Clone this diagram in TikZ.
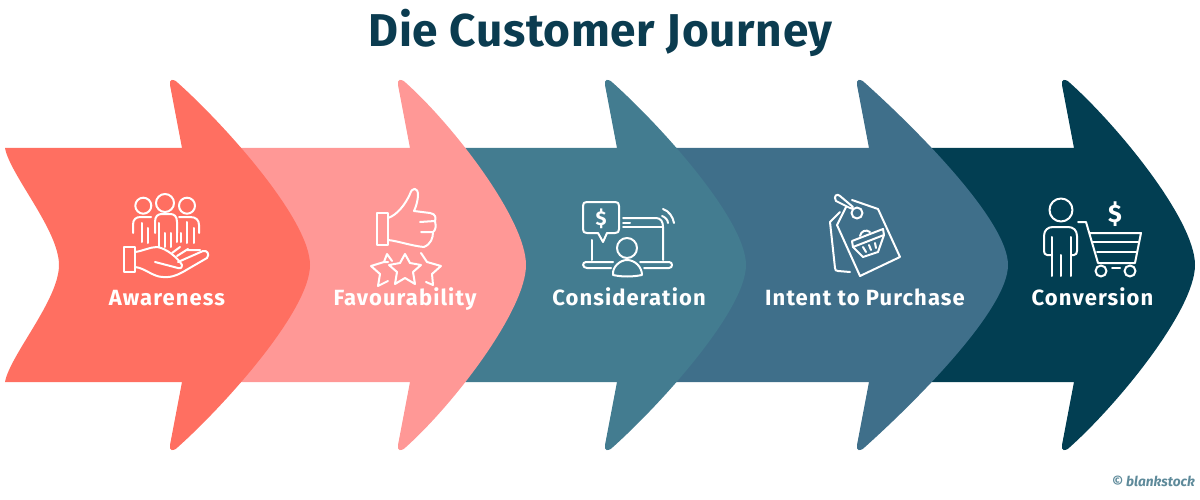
\documentclass[tikz,border=0pt]{standalone}
\usepackage{fontspec}
\setmainfont{Fira Sans}
\newfontfamily\labfont[LetterSpace=5]{Fira Sans}
\newfontfamily\titlefont[LetterSpace=1.5]{Fira Sans}
\definecolor{cA}{HTML}{FF6F61}
\definecolor{cB}{HTML}{FF9896}
\definecolor{cC}{HTML}{437C90}
\definecolor{cD}{HTML}{3F6F8A}
\definecolor{cE}{HTML}{023E52}
\definecolor{cT}{HTML}{0B3C50}
\definecolor{cR}{HTML}{5E8A9A}
\tikzset{
 ico/.style={draw=white,line width=2pt,line cap=round,line join=round},
 lab/.style={text=white,font=\labfont\fontsize{22}{22}\selectfont\bfseries,inner sep=0pt,anchor=base},
 pics/chevron/.style args={#1/#2/#3}{code={
  \fill[#3] (12,68) -- (0,5) .. controls (-1,-1) and (3,-2) .. (8,3)
     .. controls (56,46) and (#2,140) .. (#2,185)
     .. controls (#2,230) and (56,324) .. (8,367)
     .. controls (3,372) and (-1,371) .. (0,365) -- (12,302) -- (#1,302)
     .. controls (#1+5,275) and (#1+54,220) .. (#1+54,185)
     .. controls (#1+54,150) and (#1+5,95) .. (#1,68) -- cycle;
 }}
}
\begin{document}
\begin{tikzpicture}[x=1pt,y=-1pt]
\useasboundingbox (0,0) rectangle (1200,500);
\pic at (1062,80) {chevron={-190/133/cE}};
\pic at (857,80) {chevron={-190/151/cD}};
\pic at (605,80) {chevron={-170/141/cC}};
\pic at (398,80) {chevron={-170/128/cB}};
\pic at (170,80) {chevron={-165/140/cA}};
\node[text=cT,font=\titlefont\fontsize{46}{46}\selectfont\bfseries,inner sep=0pt] (title) at (600.5,33) {Die Customer Journey};
\node[lab] (l1) at (167,305) {Awareness};
\node[lab] (l2) at (405,305) {Favourability};
\node[lab] (l3) at (629,305) {Consideration};
\node[lab] (l4) at (865,305) {Intent to Purchase};
\node[lab] (l5) at (1092.5,305) {Conversion};
\node[text=cR,font=\fontsize{13.7}{14}\selectfont\bfseries\itshape,inner sep=0pt,anchor=east] (credit) at (1195,481.5) {© blankstock};
% Awareness icon
\begin{scope}[ico]
\draw (143.3,205.7) circle (8); \draw (165,203) circle (9); \draw (187,205.7) circle (8);
\draw (133,233) -- (133,225) .. controls (133,219) and (136,217) .. (141,217) -- (151,217);
\draw (142,223) -- (142,242) (148,228) -- (148,243);
\draw (155,233) -- (155,222) .. controls (155,216) and (158,214) .. (162,214) -- (170,214) .. controls (174,214) and (177,216) .. (177,222) -- (177,233);
\draw (159,223) -- (159,247) (165,233) -- (165,247) (171,233) -- (171,247) (177,233) -- (177,242);
\draw (179,217) -- (190,217) .. controls (196,217) and (199,220) .. (199,225) -- (199,233);
\draw (187,222) -- (187,243) (194,228) -- (194,243) (181,233) -- (181,242);
\draw (124,247) rectangle (135,272);
\draw (135,252) .. controls (143,251) and (150,247) .. (157,247) .. controls (166,248) and (178,258) .. (182,265) .. controls (182,268) and (180,269) .. (178,268) -- (155,262);
\draw (135,267) .. controls (145,268) and (153,277) .. (163,277) .. controls (172,278) and (180,274) .. (188,269) -- (207,258) .. controls (210,254) and (207,250) .. (203,251) -- (178,262);
\draw (172,253) -- (180,247) (177,256) -- (188,249) (186,250) -- (200,250);
\end{scope}
% Favourability icon
\begin{scope}[ico]
\draw (377,213) rectangle (388,245);
\draw (388,218) .. controls (397,215) and (405,205) .. (410,194) .. controls (412,187) and (418,187) .. (418,195) .. controls (418,200) and (416,207) .. (414,211) -- (430,213) .. controls (436,214) and (436,218) .. (435,221) .. controls (436,226) and (436,230) .. (433,232) .. controls (433,238) and (431,244) .. (424,247) .. controls (412,246) and (398,241) .. (388,240);
\draw (420,222) -- (435,221) (421,232) -- (433,232);
\foreach \cx/\cy in {405/269}{
 \draw (\cx,\cy-15) -- (\cx+5,\cy-6) -- (\cx+16,\cy-4) -- (\cx+8,\cy+3) -- (\cx+10,\cy+15) -- (\cx,\cy+9) -- (\cx-10,\cy+15) -- (\cx-8,\cy+3) -- (\cx-16,\cy-4) -- (\cx-5,\cy-6) -- cycle;
}
\draw (388,262) -- (384,262) -- (371,266) -- (380,274) -- (378,286) -- (388,281);
\draw (384,262) -- (387,254) -- (392,261);
\draw (421,253) -- (427,262) -- (441,266) -- (432,274) -- (433,285) -- (426,282);
\end{scope}
% Consideration icon
\begin{scope}[ico]
\draw (587,202) -- (615,202) .. controls (618,202) and (619,203) .. (619,206) -- (619,229) .. controls (619,232) and (618,233) .. (615,233) -- (607,233) -- (603,242) -- (598,233) -- (587,233) .. controls (584,233) and (583,232) .. (583,229) -- (583,206) .. controls (583,203) and (584,202) .. (587,202) -- cycle;
\node[text=white,font=\fontsize{20}{20}\selectfont\bfseries,inner sep=0pt,draw=none] (dollar1) at (601,219) {\$};
\draw (623,218) -- (656,218) .. controls (661,218) and (663,222) .. (663,227) -- (663,260);
\draw (623,227) -- (663,227) (623,223) -- (630,223);
\draw (592,240) -- (592,260);
\draw (613,262) -- (586,262) .. controls (582,262) and (582,268) .. (587,268) -- (611,268);
\draw (640,262) -- (669,262) .. controls (673,262) and (673,268) .. (669,268) -- (644,268);
\draw (627,248) circle (10);
\draw (613,275) .. controls (612,267) and (620,260) .. (627,260) .. controls (635,260) and (642,267) .. (642,275) .. controls (632,277) and (622,277) .. (613,275) -- cycle;
\draw (663,209) .. controls (669,211) and (673,217) .. (674,223);
\draw (662,216) .. controls (665,217) and (668,220) .. (668,223);
\end{scope}
% Intent icon
\begin{scope}[ico]
\draw (840,212) -- (830,222) -- (835,268) .. controls (835,270) and (836,271) .. (838,271) -- (850,272);
\draw (852,200) -- (878,209) -- (900,257) -- (860,276) -- (837,225) -- (846,207);
\draw (857,213) circle (5.5);
\draw (853,209) -- (850,208) -- (836,201) .. controls (833,196) and (837,193) .. (840,196) -- (853,207);
\draw (852,241) -- (883,229) -- (884,235) -- (853,247) -- cycle;
\draw (853,247) -- (863,257) -- (878,252) -- (884,235);
\draw (860,236) .. controls (861,231) and (866,229) .. (870,232);
\draw (863,247) -- (866,252) (869,245) -- (871,250) (875,243) -- (876,248);
\end{scope}
% Conversion icon
\begin{scope}[ico]
\draw (1061,210) circle (11.5);
\draw (1061,255) -- (1061,276);
\draw (1052,237) -- (1052,276) (1071,237) -- (1071,276);
\draw (1052,255) -- (1047,255) .. controls (1045,255) and (1044,253) .. (1044,251) -- (1044,236) .. controls (1044,230) and (1048,227) .. (1053,227) -- (1068,227) .. controls (1073,227) and (1077,230) .. (1077,236) -- (1077,251) .. controls (1077,253) and (1076,255) .. (1074,255) -- (1071,255);
\draw (1078,222) -- (1086,222) -- (1098,263) -- (1135,263) -- (1141,233) -- (1090,233);
\draw (1093,242) -- (1138,242) (1097,252) -- (1136,252);
\node[text=white,font=\fontsize{25}{25}\selectfont\bfseries,inner sep=0pt,draw=none] (dollar2) at (1115,214) {\$};
\draw (1101,271) circle (5.5); \draw (1130,271) circle (5.5);
\draw (1112,268) -- (1120,268);
\end{scope}
\end{tikzpicture}
\end{document}
